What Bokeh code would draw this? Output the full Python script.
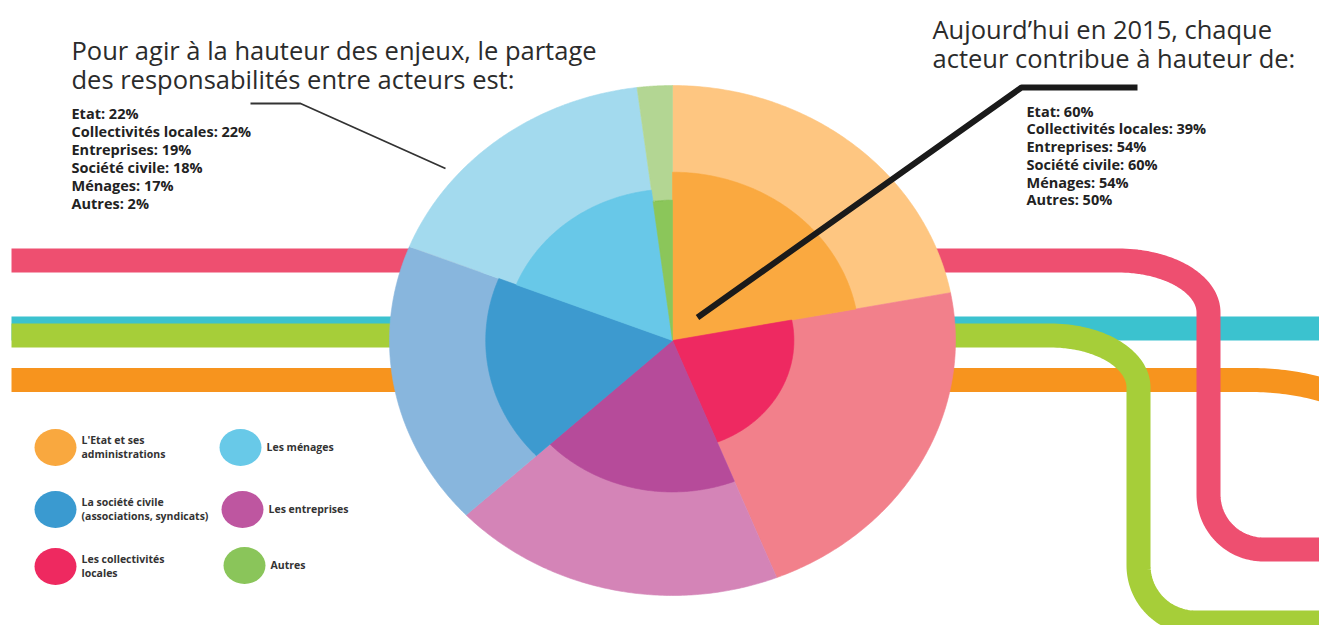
import numpy as np
from bokeh.plotting import figure
from bokeh.models import Range1d
from bokeh.core.properties import value
from bokeh.embed import file_html
from bokeh.resources import INLINE

# ---------------- data ----------------
actors = ["Etat", "Collectivités locales", "Entreprises", "Société civile", "Ménages", "Autres"]
share_pct = [22, 22, 19, 18, 17, 2]          # partage des responsabilités (angle)
contrib_pct = [60, 39, 54, 60, 54, 50]       # contribution actuelle 2015 (rayon interne)
outer_colors = ["#FEC681", "#F2808B", "#D484B7", "#88B6DD", "#A3DAEE", "#B3D693"]
inner_colors = ["#FAA940", "#EE2961", "#B64B9A", "#3D9ACF", "#68C8E8", "#8BC65A"]

legend_labels = [["L'Etat et ses", "administrations"],
                 ["La société civile", "(associations, syndicats)"],
                 ["Les collectivités", "locales"],
                 ["Les ménages"],
                 ["Les entreprises"],
                 ["Autres"]]
legend_colors = ["#F9A83F", "#3A9AD0", "#EE2960", "#68C9E8", "#BE56A0", "#8AC55A"]

title_left = ["Pour agir à la hauteur des enjeux, le partage",
              "des responsabilités entre acteurs est:"]
title_right = ["Aujourd\u2019hui en 2015, chaque",
               "acteur contribue à hauteur de:"]

# ---------------- layout ----------------
W, H = 1319, 625
p = figure(width=W, height=H, output_backend="svg", toolbar_location=None,
           x_range=Range1d(0, W), y_range=Range1d(H, 0),
           min_border=0, outline_line_color=None, background_fill_color="white",
           border_fill_color="white")
p.axis.visible = False
p.grid.visible = False

# ---------------- decorative background lines ----------------
def corner(cx, cy, rx, ry, t0, t1, sx, sy, n=40):
    t = np.radians(np.linspace(t0, t1, n))
    return list(cx + sx * rx * np.cos(t)), list(cy + sy * ry * np.sin(t))

def route(y0, xv, y1, r1x, r1y, r2x, r2y):
    xs, ys = [11], [y0]
    ax, ay = corner(xv - r1x, y0 + r1y, r1x, r1y, 90, 0, 1, -1)
    xs += ax; ys += ay
    bx, by = corner(xv + r2x, y1 - r2y, r2x, r2y, 0, 90, -1, 1)
    xs += bx; ys += by
    xs.append(1340); ys.append(y1)
    return xs, ys

LW = 24
# cyan
p.line([11, 1340], [328, 328], line_color="#3BC2CF", line_width=LW, line_cap="butt")
# orange with gentle bend at right
ox, oy = corner(1250, 379.5 + 80, 150, 80, 90, 40, 1, -1)
p.line([11] + ox, [379.5] + oy, line_color="#F7941E", line_width=LW, line_cap="butt", line_join="round")
# green
gx, gy = route(335, 1138, 622, 88, 52, 57, 57)
p.line(gx, gy, line_color="#A6CE39", line_width=LW, line_cap="butt", line_join="round")
# pink
px_, py_ = route(260, 1208, 549, 90, 52, 55, 55)
p.line(px_, py_, line_color="#EE4F70", line_width=LW, line_cap="butt", line_join="round")

# ---------------- pie (elliptical, as in the reference) ----------------
CX, CY, RX, RY = 672, 340, 283, 255
K = 1.1  # radius scale of the inner wedges

ends = 90 - np.cumsum(np.array(share_pct) / 100 * 360)
starts = np.concatenate([[90], ends[:-1]])

def wedge(a0, a1, frac):
    t = np.radians(np.linspace(a0, a1, 120))
    xs = [CX] + list(CX + RX * frac * np.cos(t))
    ys = [CY] + list(CY - RY * frac * np.sin(t))
    return xs, ys

oxs, oys, ixs, iys = [], [], [], []
for a0, a1, c in zip(starts, ends, contrib_pct):
    x, y = wedge(a0, a1, 1.0); oxs.append(x); oys.append(y)
    x, y = wedge(a0, a1, c / 100 * K); ixs.append(x); iys.append(y)

p.patches(oxs, oys, fill_color=outer_colors, line_color=outer_colors, line_width=0.6)
p.patches(ixs, iys, fill_color=inner_colors, line_color=inner_colors, line_width=0.6)

# ---------------- leader lines ----------------
p.line([250, 300, 445], [103, 103, 168], line_color="#333333", line_width=1.8)
p.line([1137, 1021, 697], [87, 87, 317], line_color="#1a1a1a", line_width=6, line_cap="butt")

# ---------------- titles ----------------
p.text(x=[71, 71], y=[49, 78], text=title_left, text_font=value("Open Sans"),
       text_font_size="25.5px", text_color="#2b2b2b", text_baseline="alphabetic")
p.text(x=[932, 932], y=[28, 57], text=title_right, text_font=value("Open Sans"),
       text_font_size="25.5px", text_color="#2b2b2b", text_baseline="alphabetic")

# ---------------- value lists ----------------
left_lines = [f"{a}: {v}%" for a, v in zip(actors, share_pct)]
right_lines = [f"{a}: {v}%" for a, v in zip(actors, contrib_pct)]
p.text(x=[71] * 6, y=[112.5, 130.5, 148.5, 166.5, 184.5, 202.5], text=left_lines,
       text_font=value("Open Sans"), text_font_style="bold", text_font_size="14.5px",
       text_color="#222222", text_baseline="alphabetic")
p.text(x=[1026] * 6, y=[110.5, 128, 145.5, 163.5, 181.5, 199], text=right_lines,
       text_font=value("Open Sans"), text_font_style="bold", text_font_size="14.5px",
       text_color="#222222", text_baseline="alphabetic")

# ---------------- legend ----------------
lx = [55, 55, 55, 240, 242, 244]
ly = [447, 509, 566, 447, 509, 565]
p.ellipse(x=lx, y=ly, width=42, height=37, width_units="screen", height_units="screen",
          fill_color=legend_colors, line_color=None)
tx, ty, tt = [], [], []
for x, y, labs in zip(lx, ly, legend_labels):
    if len(labs) == 2:
        tx += [x + 26, x + 26]; ty += [y - 8, y + 6]; tt += labs
    else:
        tx.append(x + 26); ty.append(y - 1); tt += labs
p.text(x=tx, y=ty, text=tt, text_font=value("Open Sans"), text_font_style="bold",
       text_font_size="10.5px", text_color="#333333", text_baseline="alphabetic")

open("out.html", "w").write(file_html(p, INLINE))
